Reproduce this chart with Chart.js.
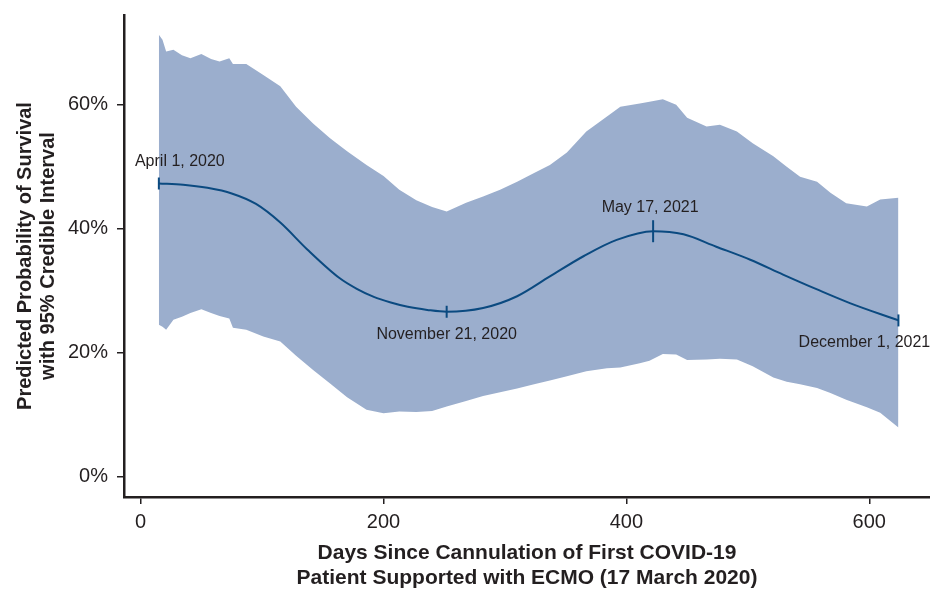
<!DOCTYPE html>
<html>
<head>
<meta charset="utf-8">
<script src="https://cdn.jsdelivr.net/npm/chart.js@4"></script>
<style>
  body { margin: 0; background: #fff; }
  #wrap { width: 930px; height: 591px; }
</style>
</head>
<body>
<div id="wrap"><canvas id="survivalChart"></canvas></div>
<script>
// credible interval band (days since 17 March 2020, % survival)
var bandDays  = [15, 18, 21, 27, 34, 41, 50, 58, 65, 73, 76, 87, 101, 115, 128, 142, 156, 170, 186, 200, 213, 227, 240, 252, 268, 282, 296, 310, 324, 337, 351, 367, 384, 395, 411, 419, 430, 441, 450, 466, 477, 491, 504, 521, 532, 543, 557, 568, 581, 598, 609, 624];
var bandUpper = [71.3, 70.5, 68.6, 68.9, 68.0, 67.5, 68.2, 67.4, 67.0, 67.5, 66.6, 66.6, 64.8, 63.0, 59.7, 57.0, 54.6, 52.5, 50.3, 48.5, 46.3, 44.6, 43.5, 42.8, 44.2, 45.2, 46.3, 47.6, 49.0, 50.3, 52.3, 55.7, 58.1, 59.7, 60.2, 60.5, 60.9, 60.0, 57.9, 56.5, 56.8, 55.7, 53.8, 51.7, 50.0, 48.4, 47.6, 45.8, 44.1, 43.6, 44.7, 45.0];
var bandLower = [24.5, 24.2, 23.7, 25.3, 25.8, 26.4, 27.0, 26.4, 25.9, 25.5, 24.0, 23.7, 22.6, 21.8, 19.5, 17.2, 15.0, 12.8, 10.8, 10.2, 10.5, 10.4, 10.6, 11.3, 12.2, 13.0, 13.6, 14.2, 14.9, 15.5, 16.2, 17.0, 17.5, 17.6, 18.3, 18.7, 19.8, 19.7, 18.8, 18.9, 19.0, 18.9, 17.8, 16.0, 15.3, 14.9, 14.3, 13.5, 12.4, 11.2, 10.3, 7.9];

// posterior mean
var meanDays = [15, 35, 55, 75, 95, 115, 137, 164, 178, 192, 206, 220, 236, 252, 282, 310, 337, 365, 392, 422, 447, 474, 502, 529, 557, 584, 624];
var meanVals = [47.3, 47.1, 46.6, 45.7, 44.0, 41.0, 36.7, 32.0, 30.3, 29.0, 28.1, 27.4, 26.9, 26.6, 27.2, 29.1, 32.3, 35.6, 38.2, 39.6, 39.1, 37.1, 35.0, 32.6, 30.2, 28.0, 25.2];

// labelled dates
var markerDays = [15, 252, 422, 624];
var markerVals = [47.3, 26.6, 39.6, 25.2];
var markerLabels = ['April 1, 2020', 'November 21, 2020', 'May 17, 2021', 'December 1, 2021'];

var xTicks = [0, 200, 400, 600];
var yTicks = [0, 20, 40, 60];

function toPoints(xs, ys) {
    return xs.map(function(x, i) { return { x: x, y: ys[i] }; });
}

var ink = '#231f20';
var lineBlue = '#0b4a80';

Chart.defaults.font.family = "'Liberation Sans', Arial, sans-serif";
Chart.defaults.color = ink;

// date labels beside the markers
var labelOffsets = [[21, -22], [0, 23], [-3, -24], [-34, 22]];
var dateLabels = {
    id: 'dateLabels',
    afterDatasetsDraw: function(chart) {
        var ctx = chart.ctx;
        var xs = chart.scales.x, ys = chart.scales.y;
        ctx.save();
        ctx.font = '16px "Liberation Sans", Arial, sans-serif';
        ctx.fillStyle = ink;
        ctx.textAlign = 'center';
        ctx.textBaseline = 'middle';
        markerLabels.forEach(function(txt, i) {
            var px = xs.getPixelForValue(markerDays[i]) + labelOffsets[i][0];
            var py = ys.getPixelForValue(markerVals[i]) + labelOffsets[i][1];
            ctx.fillText(txt, px, py);
        });
        ctx.restore();
    }
};

var ctx = document.getElementById('survivalChart').getContext('2d');
var survivalChart = new Chart(ctx, {
    type: 'line',
    data: {
        datasets: [{
            label: 'Upper',
            data: toPoints(bandDays, bandUpper),
            fill: '+1',
            backgroundColor: '#9baecd',
            borderWidth: 0,
            pointRadius: 0,
            tension: 0,
            order: 3
        }, {
            label: 'Lower',
            data: toPoints(bandDays, bandLower),
            fill: false,
            borderWidth: 0,
            pointRadius: 0,
            tension: 0,
            order: 4
        }, {
            label: 'Mean',
            data: toPoints(meanDays, meanVals),
            borderColor: lineBlue,
            borderWidth: 2,
            pointRadius: 0,
            cubicInterpolationMode: 'monotone',
            fill: false,
            order: 2
        }, {
            label: 'Dates',
            data: toPoints(markerDays, markerVals),
            showLine: false,
            pointStyle: 'line',
            pointRotation: 90,
            pointRadius: [6, 6, 11, 6],
            borderColor: lineBlue,
            borderWidth: 2,
            order: 1
        }]
    },
    options: {
        responsive: true,
        maintainAspectRatio: false,
        animation: false,
        layout: { autoPadding: false, padding: { top: 15, right: 0, bottom: 0, left: 0 } },
        plugins: {
            legend: { display: false },
            tooltip: { enabled: false }
        },
        scales: {
            x: {
                type: 'linear',
                min: -13.7,
                max: 650,
                afterBuildTicks: function(scale) {
                    scale.ticks = xTicks.map(function(v) { return { value: v }; });
                },
                afterFit: function(scale) {
                    scale.height = 94;
                    scale.paddingLeft = 0;
                    scale.paddingRight = 0;
                },
                grid: { drawOnChartArea: false, drawTicks: true, tickLength: 7, color: ink, lineWidth: 1.5 },
                border: { display: true, color: ink, width: 2.5 },
                ticks: { font: { size: 20 }, color: ink, padding: 6, maxRotation: 0 },
                title: {
                    display: true,
                    text: ['Days Since Cannulation of First COVID-19', 'Patient Supported with ECMO (17 March 2020)'],
                    font: { size: 21, weight: 'bold', lineHeight: 25 / 21 },
                    color: ink,
                    padding: { top: 0, bottom: 0.5 }
                }
            },
            y: {
                min: -3.3,
                max: 74.5,
                afterBuildTicks: function(scale) {
                    scale.ticks = yTicks.map(function(v) { return { value: v }; });
                },
                afterFit: function(scale) {
                    scale.width = 124;
                    scale.paddingTop = 0;
                    scale.paddingBottom = 0;
                },
                grid: { drawOnChartArea: false, drawTicks: true, tickLength: 7, color: ink, lineWidth: 1.5 },
                border: { display: true, color: ink, width: 2.5 },
                ticks: {
                    font: { size: 20 },
                    color: ink,
                    padding: 9,
                    callback: function(v) { return v + '%'; }
                },
                title: {
                    display: true,
                    text: ['Predicted Probability of Survival', 'with 95% Credible Interval'],
                    font: { size: 20, weight: 'bold', lineHeight: 23 / 20 },
                    color: ink,
                    padding: { top: 13.5, bottom: 0 }
                }
            }
        }
    },
    plugins: [dateLabels]
});
</script>
</body>
</html>
